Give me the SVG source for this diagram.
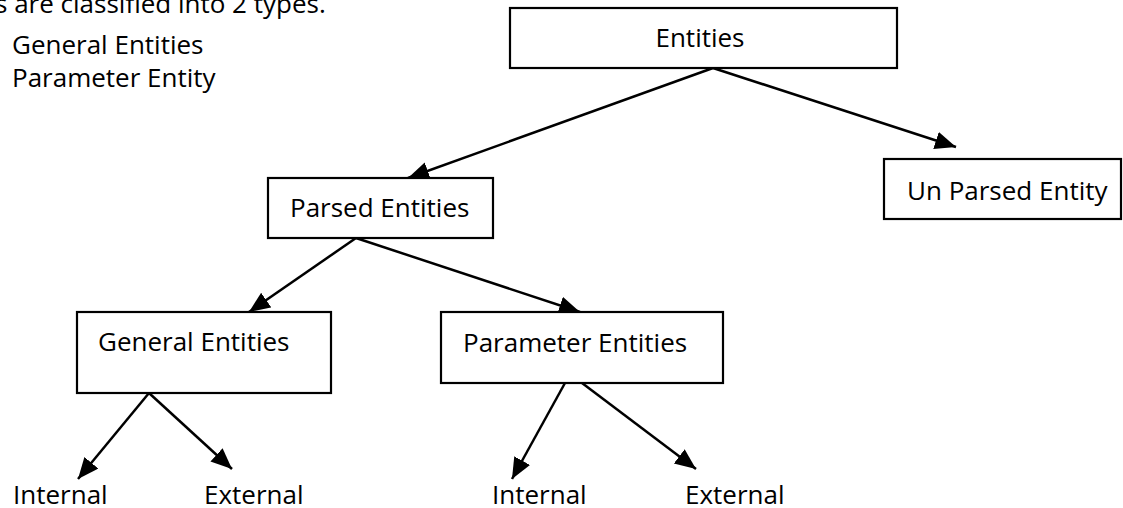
<svg xmlns="http://www.w3.org/2000/svg" width="1123" height="508" viewBox="0 0 1123 508">
<style>
  .box { fill: #ffffff; stroke: #000000; stroke-width: 2.2; }
  .lbl { font-family: "Open Sans", "Liberation Sans", sans-serif; font-size: 26px; fill: #000000; }
  .edge { stroke: #000000; stroke-width: 2.5; fill: none; marker-end: url(#arr); }
</style>
<defs>
  <marker id="arr" markerUnits="userSpaceOnUse" markerWidth="24" markerHeight="20" refX="21" refY="9" orient="auto">
    <path d="M0,0 L21,9 L0,18 Z" fill="#000000"/>
  </marker>
</defs>
<rect width="1123" height="508" fill="#ffffff"/>
<g id="intro">
  <text class="lbl" x="-5" y="13">s are classified into 2 types.</text>
  <text class="lbl" x="12" y="54">General Entities</text>
  <text class="lbl" x="12" y="87">Parameter Entity</text>
</g>
<g id="connectors">
  <line class="edge" x1="713" y1="68" x2="408" y2="178"/>
  <line class="edge" x1="713" y1="68" x2="956" y2="147"/>
  <line class="edge" x1="356" y1="238" x2="249" y2="312"/>
  <line class="edge" x1="356" y1="238" x2="580" y2="312"/>
  <line class="edge" x1="149" y1="393" x2="78" y2="479"/>
  <line class="edge" x1="149" y1="393" x2="232" y2="469"/>
  <line class="edge" x1="565" y1="383" x2="512" y2="479"/>
  <line class="edge" x1="582" y1="383" x2="696" y2="469"/>
</g>
<g id="entities">
  <rect class="box" x="510" y="8" width="387" height="60"/>
  <text class="lbl" x="700" y="47" text-anchor="middle">Entities</text>
</g>
<g id="parsed">
  <rect class="box" x="268" y="178" width="225" height="60"/>
  <text class="lbl" x="290" y="217">Parsed Entities</text>
</g>
<g id="unparsed">
  <rect class="box" x="884" y="159" width="237" height="60"/>
  <text class="lbl" x="907" y="200">Un Parsed Entity</text>
</g>
<g id="general">
  <rect class="box" x="77" y="312" width="254" height="81"/>
  <text class="lbl" x="98" y="351">General Entities</text>
</g>
<g id="parameter">
  <rect class="box" x="441" y="312" width="282" height="71"/>
  <text class="lbl" x="463" y="352">Parameter Entities</text>
</g>
<g id="leaves">
  <text class="lbl" x="13" y="504">Internal</text>
  <text class="lbl" x="204" y="504">External</text>
  <text class="lbl" x="492" y="504">Internal</text>
  <text class="lbl" x="685" y="504">External</text>
</g>
</svg>
